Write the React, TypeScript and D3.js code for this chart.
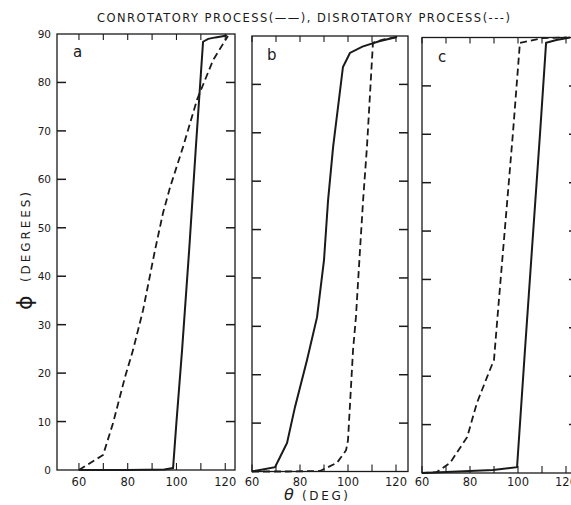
import * as d3 from "d3";

// theta (deg) / phi (deg)
const thetaTicks = [60, 70, 80, 90, 100, 110, 120];
const thetaLabels = [60, 80, 100, 120];
const phiTicks = [0, 10, 20, 30, 40, 50, 60, 70, 80, 90];
const panelNames = ["a", "b", "c"];

// panel a
const conATheta = [60, 80, 95, 98.6, 100, 102.3, 105.2, 108, 110.9, 113, 116, 120.7];
const conAPhi = [0, 0, 0.1, 0.4, 10, 24.8, 45.4, 67, 88.4, 89, 89.3, 89.7];
const disATheta = [60, 69.9, 74, 78.9, 82.2, 86.3, 91.2, 94.5, 97.4, 102.7, 108.4, 115, 121.1];
const disAPhi = [0, 3.1, 9.7, 19.2, 24.8, 33, 45.4, 53.1, 58.4, 66.7, 76.4, 84.6, 89.6];

// panel b
const conBTheta = [60, 63.3, 69.6, 71.7, 74.6, 77.9, 82.9, 87.1, 90, 91.7, 93.8, 97.9, 100.8, 106, 113, 120.4];
const conBPhi = [0, 0.3, 0.9, 3, 5.9, 13.3, 23, 31.9, 43.7, 56.1, 67.1, 83.6, 86.5, 87.8, 88.9, 89.8];
const disBTheta = [60, 75, 88.3, 95.4, 99.2, 100, 102.1, 103.3, 105, 106.3, 107.9, 110.4, 115, 120.4];
const disBPhi = [0, 0, 0.1, 1.8, 4.4, 6.5, 25.1, 31.9, 45.8, 56.1, 67.1, 88.6, 89.3, 89.8];

// panel c
const conCTheta = [60, 75, 89.6, 99.6, 102.9, 105.8, 109.2, 111.7, 116, 121.7];
const conCPhi = [0, 0.3, 0.6, 1.2, 25.4, 46.1, 70.3, 88.9, 89.5, 90];
const disCTheta = [60, 66.2, 71.7, 78.8, 82.9, 87.1, 90, 91.7, 93.8, 97.9, 100.8, 110.4, 120.4];
const disCPhi = [0, 0.2, 2.1, 7.4, 14.5, 19.8, 23.4, 33.7, 46.1, 70.3, 88.9, 89.9, 90];

const W = 571;
const H = 505;
const ink = "#1a1a1a";
const font = "'DejaVu Sans', sans-serif";

const panels = [
  { name: panelNames[0], dom: [51, 124], xr: [57, 235], yr: [470, 34], con: [conATheta, conAPhi], dis: [disATheta, disAPhi], lx: 73, ly: 57 },
  { name: panelNames[1], dom: [60, 125], xr: [252, 408], yr: [471.5, 36], con: [conBTheta, conBPhi], dis: [disBTheta, disBPhi], lx: 267, ly: 60 },
  { name: panelNames[2], dom: [60, 125], xr: [422, 578], yr: [473, 37.5], con: [conCTheta, conCPhi], dis: [disCTheta, disCPhi], lx: 438, ly: 62 },
];

function Panel({ p, first }: { p: any; first: boolean }) {
  const x = d3.scaleLinear().domain(p.dom).range(p.xr);
  const y = d3.scaleLinear().domain([0, 90]).range(p.yr);
  const path = (th: number[], ph: number[]) =>
    d3
      .line<[number, number]>()
      .x((d) => x(d[0]))
      .y((d) => y(d[1]))(th.map((t, i) => [t, ph[i]] as [number, number])) || "";
  const [x0, x1] = p.xr;
  const [yb, yt] = p.yr;
  return (
    <g>
      <rect x={x0} y={yt} width={x1 - x0} height={yb - yt} fill="none" stroke={ink} strokeWidth={1.3} />
      {phiTicks.slice(1, -1).map((v) => (
        <g key={v}>
          <line x1={x0} x2={x0 + 9} y1={y(v)} y2={y(v)} stroke={ink} strokeWidth={1.5} />
          <line x1={x1 - 9} x2={x1} y1={y(v)} y2={y(v)} stroke={ink} strokeWidth={1.5} />
        </g>
      ))}
      {thetaTicks.map((v) => (
        <g key={v}>
          <line x1={x(v)} x2={x(v)} y1={yb} y2={yb - 7} stroke={ink} strokeWidth={1.1} />
          <line x1={x(v)} x2={x(v)} y1={yt} y2={yt + 6} stroke={ink} strokeWidth={1.1} />
        </g>
      ))}
      {thetaLabels.map((v) => (
        <text key={v} x={x(v)} y={486} textAnchor="middle" fontSize={11.5} fontFamily={font} fill={ink}>
          {v}
        </text>
      ))}
      {first &&
        phiTicks.map((v) => (
          <text key={v} x={51} y={y(v) + 4} textAnchor="end" fontSize={10.5} fontFamily={font} fill={ink}>
            {v}
          </text>
        ))}
      <text x={p.lx} y={p.ly} fontSize={15} fontFamily={font} fill={ink}>
        {p.name}
      </text>
      <path d={path(p.dis[0], p.dis[1])} fill="none" stroke={ink} strokeWidth={1.8} strokeDasharray="7,4" />
      <path d={path(p.con[0], p.con[1])} fill="none" stroke={ink} strokeWidth={2} />
    </g>
  );
}

export default function App() {
  return (
    <svg
      width={W}
      height={H}
      style={{ position: "absolute", left: 0, top: 0, background: "#fff" }}
    >
      <rect width={W} height={H} fill="#fff" />
      <text x={97} y={22} fontSize={11.5} fontFamily={font} fill={ink} textLength={413} lengthAdjust="spacing">
        CONROTATORY PROCESS(——), DISROTATORY PROCESS(---)
      </text>
      {panels.map((p, i) => (
        <Panel key={p.name} p={p} first={i === 0} />
      ))}
      <text transform="translate(32, 310) rotate(-90)" fontSize={22} fontFamily={font} fill={ink}>
        ϕ
      </text>
      <text transform="translate(30, 282) rotate(-90)" fontSize={12} fontFamily={font} fill={ink} textLength={90} lengthAdjust="spacing">
        (DEGREES)
      </text>
      <text x={284} y={500} fontSize={16} fontStyle="italic" fontFamily={font} fill={ink}>
        θ
      </text>
      <text x={302} y={500} fontSize={12} fontFamily={font} fill={ink} textLength={46} lengthAdjust="spacing">
        (DEG)
      </text>
    </svg>
  );
}
